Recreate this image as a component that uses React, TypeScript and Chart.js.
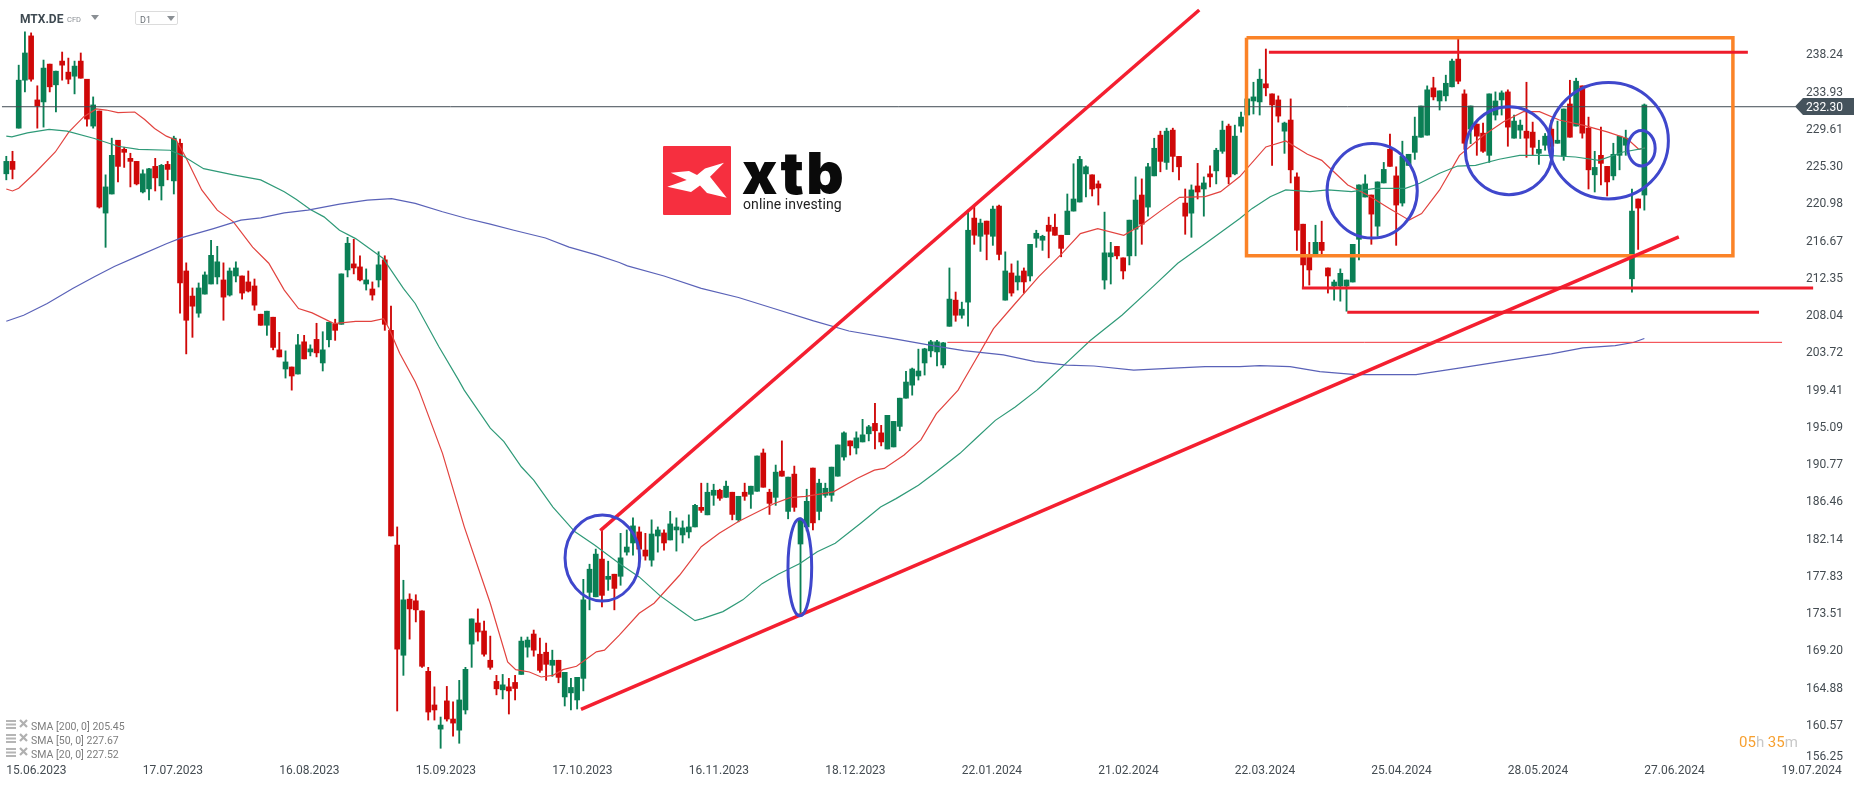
import React, { useEffect, useRef } from "react";
import { Chart, registerables } from "chart.js";

Chart.register(...registerables);

const opens = [
224.53,225.97,229.82,235.38,240.51,233.09,232.86,237.24,234.84,237.59,
236.31,235.84,237.59,235.49,230.06,231.81,219.98,222.19,228.42,227.37,
226.32,225.97,222.43,222.78,225.39,223.13,225.62,223.71,228.07,213.27,
210.36,208.38,210.59,211.76,212.58,212.23,210.48,212.69,212.69,212.0,
211.53,208.26,206.98,207.91,204.13,201.91,202.14,201.33,205.06,203.89,
205.34,202.61,205.3,207.09,207.09,213.39,214.09,213.74,211.76,211.18,
212.23,214.56,206.39,181.51,168.74,175.24,175.05,173.88,166.88,162.98,
160.18,163.45,161.35,160.06,162.4,170.03,172.48,171.55,168.16,165.71,
164.73,165.08,165.59,166.52,169.68,171.2,168.86,169.09,167.58,168.16,
163.91,164.38,163.56,166.06,176.03,175.51,179.88,177.54,178.13,177.89,
180.69,181.75,183.03,180.93,179.76,182.56,182.91,182.1,183.26,182.68,
183.03,183.61,185.88,185.01,187.28,187.86,187.04,187.63,184.43,187.63,
187.39,187.74,192.18,187.63,187.04,190.08,185.41,189.73,181.63,183.61,
190.43,185.41,187.28,187.28,189.49,191.71,193.58,192.76,193.46,194.4,
195.61,194.51,192.64,192.88,195.26,198.53,200.04,201.1,202.61,204.01,
203.89,202.38,206.86,209.89,208.14,209.66,219.4,217.29,219.05,217.29,
220.79,209.89,213.04,212.0,213.27,212.69,217.06,216.83,218.57,218.34,
217.41,217.48,220.21,221.26,224.52,224.41,223.36,212.22,214.91,216.12,
214.79,215.02,218.11,222.07,220.67,224.29,229.01,225.85,229.59,226.55,
221.14,219.97,223.12,222.77,224.52,224.87,227.14,230.06,224.52,230.06,
231.34,232.97,232.86,234.96,233.79,233.09,229.47,230.76,224.17,218.69,
215.14,215.19,216.59,213.62,211.52,211.52,211.52,211.99,216.94,221.84,
222.07,218.46,223.47,227.37,224.29,221.14,225.5,227.02,228.77,229.01,
234.49,232.97,233.56,234.61,237.82,233.79,229.71,230.29,229.24,226.67,
231.34,233.09,234.02,228.66,229.59,229.47,229.36,226.9,227.84,229.71,
228.07,226.55,232.62,230.06,234.72,229.82,224.41,226.67,225.39,224.29,
226.67,227.84,212.36,221.61,222.07
];

const closes = [
225.97,225.04,235.38,238.53,235.49,232.39,236.78,234.61,236.42,237.12,
235.49,237.01,235.61,230.87,232.51,220.68,223.01,226.67,225.39,227.02,
225.97,223.36,224.53,225.11,224.06,225.51,225.04,228.66,211.88,207.56,
209.19,211.3,212.81,215.08,214.33,210.24,213.27,213.62,210.71,210.94,
209.31,206.98,208.61,204.41,203.31,202.73,201.1,204.71,203.08,204.24,
203.78,204.13,207.33,206.39,212.93,216.48,213.62,212.23,212.23,210.48,
213.98,207.09,182.56,169.45,175.16,174.11,174.0,167.46,162.16,162.4,
160.65,161.35,160.88,163.56,167.11,172.95,171.43,168.86,167.34,164.85,
165.31,164.61,164.89,170.38,170.5,169.33,166.99,167.69,168.16,166.18,
166.76,165.01,166.18,175.16,178.71,180.46,175.68,177.89,176.49,180.03,
181.28,183.73,181.04,180.23,182.79,183.26,181.75,183.96,183.61,183.5,
183.61,186.11,185.53,187.63,187.86,186.93,188.33,185.06,187.16,187.16,
188.33,191.83,188.21,186.34,189.96,189.49,189.38,185.88,184.43,186.58,
184.08,188.68,188.09,190.54,193.11,194.51,193.0,193.93,194.28,195.21,
194.75,193.46,196.54,195.84,198.53,200.4,201.91,201.68,204.24,205.06,
205.06,204.94,210.01,208.14,208.84,217.99,217.41,218.82,217.52,220.44,
215.19,213.27,210.71,212.69,212.0,216.36,217.64,217.29,217.87,217.41,
215.89,220.21,221.61,226.2,225.34,222.77,222.89,215.37,215.37,215.02,
213.27,219.16,221.49,218.69,225.34,227.49,225.97,229.47,226.55,225.34,
219.62,222.66,222.42,223.47,224.17,227.26,229.59,224.17,228.89,231.1,
233.21,233.44,235.49,234.49,232.51,231.22,230.41,224.99,217.99,213.97,
213.39,216.59,215.65,212.69,211.99,213.0,212.22,216.36,223.24,223.36,
219.86,223.59,225.04,225.39,220.91,226.55,226.79,228.89,232.39,234.26,
233.44,234.14,235.02,237.59,235.26,228.07,232.39,228.89,227.14,233.79,
232.97,233.91,229.94,230.64,230.17,228.66,227.6,227.37,228.89,227.72,
228.42,232.04,228.77,235.26,229.24,224.99,225.27,225.74,223.59,226.79,
228.89,228.66,220.21,220.56,232.51
];

const highs = [
226.56,227.14,237.12,240.98,240.86,234.73,237.71,237.24,236.42,238.64,
237.94,237.59,238.53,235.49,233.44,231.81,224.41,228.66,228.42,227.61,
226.91,225.97,224.99,225.16,226.32,225.62,225.97,228.89,228.54,214.21,
211.3,211.88,213.16,216.83,216.13,214.21,213.62,214.33,212.69,213.27,
212.34,208.26,208.61,207.91,206.16,204.01,202.14,205.92,205.81,204.71,
207.21,206.23,207.33,207.68,212.93,217.17,216.94,215.03,213.51,212.0,
215.5,215.03,209.19,183.61,177.43,175.86,175.75,173.88,167.34,165.08,
161.58,165.13,163.33,165.83,167.34,172.95,174.11,172.71,170.96,166.41,
166.52,166.06,166.41,170.85,170.85,171.66,170.73,170.15,169.33,168.16,
166.76,166.06,166.18,177.54,179.29,181.04,183.26,179.64,178.13,182.87,
183.26,184.66,183.61,182.87,184.43,183.61,183.26,185.41,184.66,184.31,
185.01,186.23,188.68,188.68,188.56,187.98,188.91,187.63,187.16,188.68,
188.33,191.83,192.64,187.98,190.78,193.58,189.38,190.66,184.66,187.98,
190.43,189.14,188.68,190.54,193.11,194.63,193.58,194.63,196.08,195.38,
197.94,195.38,196.54,195.84,198.53,201.64,202.02,204.21,204.31,205.23,
205.23,204.99,213.62,210.83,209.66,220.32,220.79,219.28,219.05,220.79,
220.91,215.49,214.09,214.44,213.62,216.36,217.99,217.41,219.51,219.86,
217.41,222.19,225.69,226.55,225.46,224.41,223.71,220.09,216.59,216.12,
214.79,219.16,224.17,223.94,225.74,228.65,229.47,229.82,229.82,226.55,
222.77,223.24,225.74,224.17,225.46,227.49,230.64,230.29,230.17,231.69,
233.21,235.14,236.66,238.99,233.79,233.56,230.52,233.21,224.64,218.69,
216.59,218.57,219.04,213.62,212.22,213.51,212.22,216.36,223.24,224.41,
222.07,223.59,225.85,229.12,225.34,228.31,226.79,231.1,232.39,234.72,
235.72,234.14,235.96,237.82,240.16,234.26,232.39,230.29,230.41,233.79,
234.02,234.14,234.26,231.34,230.76,235.14,230.52,228.42,229.2,230.76,
230.64,232.04,235.37,235.61,234.72,231.1,227.14,229.94,225.39,228.07,
228.89,229.59,222.77,221.61,232.62
];

const lows = [
223.83,223.94,229.82,234.02,235.26,229.82,229.94,234.02,231.69,235.38,
234.96,233.79,235.61,230.06,229.82,220.56,216.01,222.19,223.59,225.27,
223.01,223.24,222.31,221.49,222.54,221.49,223.83,222.19,208.38,203.66,
205.58,207.91,210.59,211.76,211.76,207.56,210.36,212.0,210.01,210.83,
208.73,206.98,205.81,204.13,203.31,200.86,199.46,201.33,203.08,203.43,
203.31,201.68,204.48,205.23,207.09,212.58,212.93,212.11,211.06,209.89,
211.41,206.39,182.56,162.28,166.41,170.61,172.6,167.34,161.23,161.23,
157.96,161.11,159.36,158.54,161.93,167.34,170.38,168.63,167.11,164.15,
163.68,161.93,163.56,166.52,168.52,168.63,166.76,165.83,166.29,165.55,
162.86,162.4,162.51,164.61,174.0,175.51,174.35,176.26,174.0,176.85,
180.34,180.34,179.76,179.76,179.06,180.69,180.93,182.1,180.81,181.75,
182.33,183.61,185.29,185.01,186.11,186.69,187.04,184.43,184.2,186.69,
185.76,187.74,188.21,185.06,186.11,189.49,184.55,185.41,173.41,183.15,
183.26,184.43,187.04,186.58,189.49,191.36,191.94,192.06,193.46,193.58,
192.64,193.0,192.64,192.88,194.75,198.53,198.88,200.63,201.21,203.31,
202.27,202.03,206.86,207.44,207.79,206.86,216.36,215.54,214.56,216.24,
214.56,209.89,210.36,211.06,210.71,212.11,216.01,215.66,214.79,217.41,
214.91,217.48,220.21,221.26,221.84,221.96,220.91,211.17,211.76,214.67,
212.34,213.97,215.02,216.36,219.62,224.29,224.76,225.04,224.76,223.82,
217.52,217.17,221.61,219.62,223.01,223.36,226.9,223.36,224.41,229.36,
231.34,231.46,231.34,233.56,225.5,230.52,226.9,223.47,215.65,211.29,
211.64,215.14,215.14,210.71,209.89,209.77,208.61,211.99,214.54,221.84,
216.36,217.29,223.47,225.39,216.24,220.79,225.5,226.2,228.77,229.01,
233.09,231.92,232.97,234.61,234.96,227.37,228.03,226.67,227.02,225.85,
230.76,231.34,227.72,228.66,228.62,226.44,226.67,225.62,227.26,226.67,
228.07,226.09,228.77,230.06,228.66,222.77,222.42,223.24,221.96,223.82,
224.99,226.67,210.82,215.77,220.32
];

const sma20 = [[0,222.77],[1,222.54],[2,222.85],[4.7,224.68],[7.9,227.06],[10.1,229.39],[12.5,231.15],[14.5,232.04],[16.1,231.92],[18,231.61],[20.7,231.69],[22.3,230.83],[23.9,229.78],[25.8,228.89],[27.4,228.42],[28.9,226.48],[31.5,222.66],[34,220.32],[36.6,218.96],[39.7,216.04],[42.3,214.17],[44.8,211.06],[47.1,208.92],[49.3,208.41],[52.8,207.17],[56.3,207.44],[58.8,207.44],[60.8,207.75],[61.7,206.58],[63.4,203.74],[65.9,200.43],[66.5,199.46],[70.3,192.14],[73.8,183.65],[78,174.77],[80.8,167.97],[82.1,167.07],[84.3,166.8],[86.2,166.22],[88.1,166.41],[89.7,167.07],[91.9,167.46],[95.1,169.13],[96.4,169.33],[98.8,171.08],[102,173.61],[104.4,174.77],[108.5,178.01],[112,181.32],[114.9,182.87],[118,184.23],[123.7,186.3],[126.3,187.0],[128.8,187.16],[133.3,187.67],[137.1,189.22],[139.9,190.19],[141.5,190.39],[144.7,191.94],[147.4,193.7],[149.9,196.74],[153.4,199.46],[154,200.24],[156.2,202.96],[159.1,206.58],[162.6,209.5],[166.4,212.61],[170.2,215.34],[173.1,217.6],[175.9,218.18],[180.1,217.4],[182.9,218.57],[186.2,220.32],[189.1,221.8],[193.2,221.88],[195.7,222.46],[198.8,224.21],[203,227.64],[206.2,228.34],[209.7,226.79],[212,226.09],[214.2,224.6],[216.2,223.24],[219.4,222.07],[222.9,220.52],[226.1,219.16],[228.1,219.93],[231,222.66],[234.2,226.67],[238.1,229.0],[241.3,230.56],[244.5,231.73],[247.1,231.73],[250.3,230.76],[254.1,230.17],[258,229.39],[261.2,228.62],[263.1,227.37],[264.1,227.52]];

const sma50 = [[0,228.89],[0.9,228.81],[3.4,229.28],[6.9,229.67],[9.8,229.47],[14.2,228.62],[18,227.72],[21.3,227.37],[26.4,227.26],[28.3,226.67],[31.8,225.12],[36.6,224.41],[41,223.82],[44.8,222.46],[46.7,221.57],[49,220.4],[51.2,219.54],[53.7,217.99],[56.3,217.02],[60.7,214.75],[64,211.25],[65.9,209.5],[69.7,204.51],[72.9,200.62],[73.8,199.46],[78,195.06],[80.2,193.5],[83,190.58],[85,189.03],[88.1,185.91],[91.6,183.07],[94.8,181.51],[98.8,179.37],[102,177.82],[105.3,175.68],[108.5,174.0],[111,172.75],[112.3,173.02],[115.5,173.8],[118.7,175.16],[121.8,177.04],[124.4,178.13],[127.9,179.37],[130.7,180.73],[133.6,181.71],[137.7,184.04],[140.9,185.91],[143.4,186.89],[147,188.44],[149.9,190.0],[153.7,192.14],[156.3,193.89],[159.4,195.96],[162.6,197.51],[166.1,199.46],[166.4,199.65],[170.2,202.18],[174.7,205.22],[179.8,208.14],[184.8,211.45],[188.8,214.17],[193.2,216.43],[198.8,219.35],[200.8,220.52],[203.7,221.88],[206.2,222.66],[210.1,222.46],[213,222.66],[216.8,222.46],[220.7,222.85],[225.5,222.85],[227.8,223.44],[231,224.6],[233.9,225.43],[236.8,225.51],[240.6,226.22],[243.9,226.67],[248.4,226.67],[252.9,226.48],[256.7,226.09],[260.6,227.06],[264.1,227.5]];

const sma200 = [[0,207.44],[2.8,208.14],[6.6,209.5],[10.7,211.25],[14.2,212.61],[17.4,213.78],[21.3,215.02],[25.8,216.43],[28.3,217.13],[33.4,218.18],[37.8,219.16],[41,219.43],[44.8,220.01],[48.6,220.32],[53.7,221.02],[58.2,221.49],[62.1,221.65],[65.9,221.1],[70.3,220.13],[74.2,219.35],[78,218.69],[81.8,217.99],[86.9,217.09],[90.7,216.04],[95.1,215.14],[98.8,214.25],[100.1,213.86],[106,212.69],[112,211.25],[118,210.2],[123.7,208.92],[130.1,207.48],[135.8,206.31],[143.4,205.37],[148.6,204.71],[154.3,204.05],[160.7,203.54],[165.8,202.76],[170.9,202.37],[175.3,202.26],[181.7,201.79],[188.1,202.02],[193.2,202.18],[198.8,202.18],[202,202.3],[206.9,202.18],[211.7,201.6],[217.5,201.25],[227.2,201.25],[234.9,202.1],[242.6,202.96],[249,203.66],[254.1,204.36],[259.3,204.63],[262.2,204.98],[264,205.45]];

const yTickValues = [238.24,233.93,229.61,225.30,220.98,216.67,212.35,208.04,203.72,199.41,195.09,190.77,186.46,182.14,177.83,173.51,169.20,164.88,160.57];
const yFloorTick = 156.25;
const xTickBars = [0,22,44,66,88,110,132,154,176,198,220,242,264,286.1];
const xTickLabels = ["15.06.2023","17.07.2023","16.08.2023","15.09.2023","17.10.2023","16.11.2023","18.12.2023","22.01.2024","21.02.2024","22.03.2024","25.04.2024","28.05.2024","27.06.2024","19.07.2024"];
const lastPrice = 232.30;

const hLines = [
  { from: 203.49, to: 280.68, price: 238.61, width: 3 },
  { from: 208.8, to: 291.2, price: 211.3, width: 3 },
  { from: 216.12, to: 282.48, price: 208.48, width: 3 },
  { from: 151.67, to: 286.19, price: 205.0, width: 1 },
];
const trendLines = [
  [[95.73, 183.18], [192.26, 243.51]],
  [[92.62, 162.48], [269.55, 217.21]],
];
const boxBars = [199.88, 278.27];
const boxPrices = [240.3, 215.04];
const ellipses = [
  [96.07, 180.01, 6.02, 4.98],
  [127.89, 178.94, 1.91, 5.62],
  [220.13, 222.56, 7.27, 5.47],
  [242.18, 227.21, 7.02, 5.1],
  [258.22, 228.36, 9.65, 6.74],
  [263.54, 227.49, 2.2, 2.05],
];
const legendLines = ["SMA [200, 0] 205.45", "SMA [50, 0] 227.67", "SMA [20, 0] 227.52"];

const UP = "#0a7f55";
const DOWN = "#cf0808";
const W = 1866, H = 787;

const overlayPlugin = {
  id: "overlay",
  afterDatasetsDraw(chart: any) {
    const { ctx, scales } = chart;
    const { x, y } = scales;
    ctx.save();
    ctx.strokeStyle = "#3f47cc";
    ctx.lineWidth = 3;
    for (const [cx, cy, rx, ry] of ellipses) {
      const px = x.getPixelForValue(cx), py = y.getPixelForValue(cy);
      const prx = Math.abs(x.getPixelForValue(cx + rx) - px);
      const pry = Math.abs(y.getPixelForValue(cy + ry) - py);
      ctx.beginPath();
      ctx.ellipse(px, py, prx, pry, 0, 0, Math.PI * 2);
      ctx.stroke();
    }
    ctx.font = "12px Roboto";
    ctx.fillStyle = "#444c52";
    ctx.textAlign = "right";
    ctx.textBaseline = "middle";
    ctx.fillText(yFloorTick.toFixed(2), 1843, y.getPixelForValue(yFloorTick) - 6);
    ctx.restore();
  },
};

const seg = (pts: number[][], color: string, width: number, order: number) => ({
  type: "line" as const,
  data: pts.map(([a, b]) => ({ x: a, y: b })),
  borderColor: color,
  borderWidth: width,
  pointRadius: 0,
  tension: 0,
  fill: false,
  order,
});

function Txt({ x, y, size, color, children, weight, family, spacing, right }: any) {
  return (
    <span
      style={{
        position: "absolute",
        left: right ? undefined : x,
        right: right ? W - x : undefined,
        top: y - size,
        height: size * 2,
        lineHeight: `${size * 2}px`,
        fontSize: size,
        color,
        fontWeight: weight ?? 400,
        fontFamily: family ?? "Roboto, sans-serif",
        letterSpacing: spacing ?? 0,
        whiteSpace: "pre",
      }}
    >
      {children}
    </span>
  );
}

function LegendIcon({ y }: { y: number }) {
  return (
    <svg style={{ position: "absolute", left: 6, top: y - 6 }} width="24" height="12">
      <rect x="0" y="1" width="10" height="2" fill="#b5b5b5" />
      <rect x="0" y="4.5" width="10" height="2" fill="#b5b5b5" />
      <rect x="0" y="8" width="10" height="2" fill="#b5b5b5" />
      <path d="M14 1 L21 8 M21 1 L14 8" stroke="#b0b0b0" strokeWidth="2.2" />
    </svg>
  );
}

export default function App() {
  const ref = useRef<HTMLCanvasElement | null>(null);
  useEffect(() => {
    const idx = opens.map((_, i) => i);
    const colors = idx.map((i) => (closes[i] >= opens[i] ? UP : DOWN));
    const chart = new Chart(ref.current as HTMLCanvasElement, {
      type: "bar",
      plugins: [overlayPlugin],
      data: {
        datasets: [
          ...hLines.map((l) => seg([[l.from, l.price], [l.to, l.price]], l.width > 1 ? "#ee1c2b" : "#f2333a", l.width, 0)),
          ...trendLines.map((t) => seg(t, "#f41f30", 3.5, 0)),
          seg(
            [[boxBars[0], boxPrices[0]], [boxBars[1], boxPrices[0]], [boxBars[1], boxPrices[1]], [boxBars[0], boxPrices[1]], [boxBars[0], boxPrices[0]]],
            "#fb8327", 3.5, 0
          ),
          seg(sma200, "#5a62b8", 1.2, 1),
          seg(sma50, "#2f9a78", 1.2, 1),
          seg(sma20, "#e2433f", 1.2, 1),
          seg([[-0.7, lastPrice], [288.4, lastPrice]], "#3f4a52", 1, 2),
          {
            type: "bar" as const,
            data: idx.map((i) => ({ x: i, y: [Math.min(opens[i], closes[i]), Math.max(opens[i], closes[i])] })),
            backgroundColor: colors,
            barThickness: 5,
            grouped: false,
            order: 3,
          },
          {
            type: "bar" as const,
            data: idx.map((i) => ({ x: i, y: [lows[i], highs[i]] })),
            backgroundColor: colors,
            barThickness: 1.2,
            grouped: false,
            order: 4,
          },
        ] as any,
      },
      options: {
        responsive: false,
        devicePixelRatio: 1,
        animation: false,
        events: [],
        layout: { padding: 0 },
        plugins: { legend: { display: false }, tooltip: { enabled: false } },
        scales: {
          x: {
            type: "linear",
            offset: false,
            min: -1.015,
            max: 299.72,
            grid: { display: false, drawTicks: false },
            border: { display: false },
            afterBuildTicks: (s: any) => {
              s.ticks = xTickBars.map((v) => ({ value: v }));
            },
            afterFit: (s: any) => {
              s.height = 25;
              s.paddingLeft = 0;
              s.paddingRight = 0;
            },
            ticks: {
              autoSkip: false,
              maxRotation: 0,
              minRotation: 0,
              align: "start",
              padding: 2,
              font: { family: "Roboto", size: 12 },
              color: "#444c52",
              callback: (v: any) => xTickLabels[xTickBars.indexOf(Number(v))],
            },
          },
          y: {
            type: "linear",
            position: "right",
            min: 156.37,
            max: 244.67,
            grid: { display: false, drawTicks: false },
            border: { display: false },
            afterBuildTicks: (s: any) => {
              s.ticks = yTickValues.map((v) => ({ value: v }));
            },
            afterFit: (s: any) => {
              s.width = 0;
              s.paddingTop = 0;
              s.paddingBottom = 0;
            },
            ticks: {
              mirror: true,
              padding: -23,
              autoSkip: false,
              font: { family: "Roboto", size: 12 },
              color: "#444c52",
              callback: (v: any) => Number(v).toFixed(2),
            },
          },
        },
      } as any,
    });
    return () => chart.destroy();
  }, []);

  return (
    <div style={{ position: "absolute", left: 0, top: 0, width: W, height: H, background: "#fff", overflow: "hidden" }}>
      <canvas ref={ref} width={W} height={H} style={{ display: "block", width: W, height: H }} />

      <Txt x={20} y={19} size={12} weight={700} color="#3f4a52">MTX.DE</Txt>
      <Txt x={67} y={19} size={7.5} color="#8a8f94">CFD</Txt>
      <svg style={{ position: "absolute", left: 90, top: 14 }} width="10" height="7">
        <path d="M1 1 H9 L5 6 Z" fill="#8a8f94" />
      </svg>
      <div style={{ position: "absolute", left: 135, top: 11, width: 43, height: 14, border: "1px solid #dcdcdc", borderRadius: 2, boxSizing: "border-box" }} />
      <Txt x={140} y={19.5} size={9} color="#6a7076">D1</Txt>
      <svg style={{ position: "absolute", left: 166, top: 15 }} width="10" height="7">
        <path d="M1 1 H9 L5 6 Z" fill="#8a8f94" />
      </svg>

      <svg style={{ position: "absolute", left: 663, top: 146 }} width="68" height="69">
        <rect x="0" y="0" width="68" height="69" rx="1" fill="#f62f3f" />
        <path d="M7.7 26.7 L26 25 L34 29 L42 22.5 L61 16.7 L47 30.7 L63.7 51.7 L44 47 L37 39.5 L28 46 L4.3 40.7 L23.7 34 Z" fill="#fff" />
      </svg>
      <Txt x={742} y={173} size={58} weight={900} color="#0a0a0a" family="Inter, sans-serif" spacing={2.5}>xtb</Txt>
      <Txt x={743} y={204} size={14} color="#222" family="Roboto, sans-serif" spacing={0.1}>online investing</Txt>

      <svg style={{ position: "absolute", left: 1795, top: 98 }} width="59" height="17">
        <path d="M0 8.5 L8 0 H59 V17 H8 Z" fill="#45535c" />
      </svg>
      <Txt x={1806} y={107} size={12} color="#fff">232.30</Txt>

      {legendLines.map((t, i) => (
        <React.Fragment key={t}>
          <LegendIcon y={725 + i * 14} />
          <Txt x={31} y={726.5 + i * 14} size={10.5} color="#7e7e7e">{t}</Txt>
        </React.Fragment>
      ))}

      <span style={{ position: "absolute", left: 1739, top: 733, fontFamily: "Roboto, sans-serif", fontSize: 15, lineHeight: "18px", whiteSpace: "pre" }}>
        <span style={{ color: "#f7a030" }}>05</span>
        <span style={{ color: "#c8c8c8" }}>h </span>
        <span style={{ color: "#f7a030" }}>35</span>
        <span style={{ color: "#c8c8c8" }}>m</span>
      </span>
    </div>
  );
}
